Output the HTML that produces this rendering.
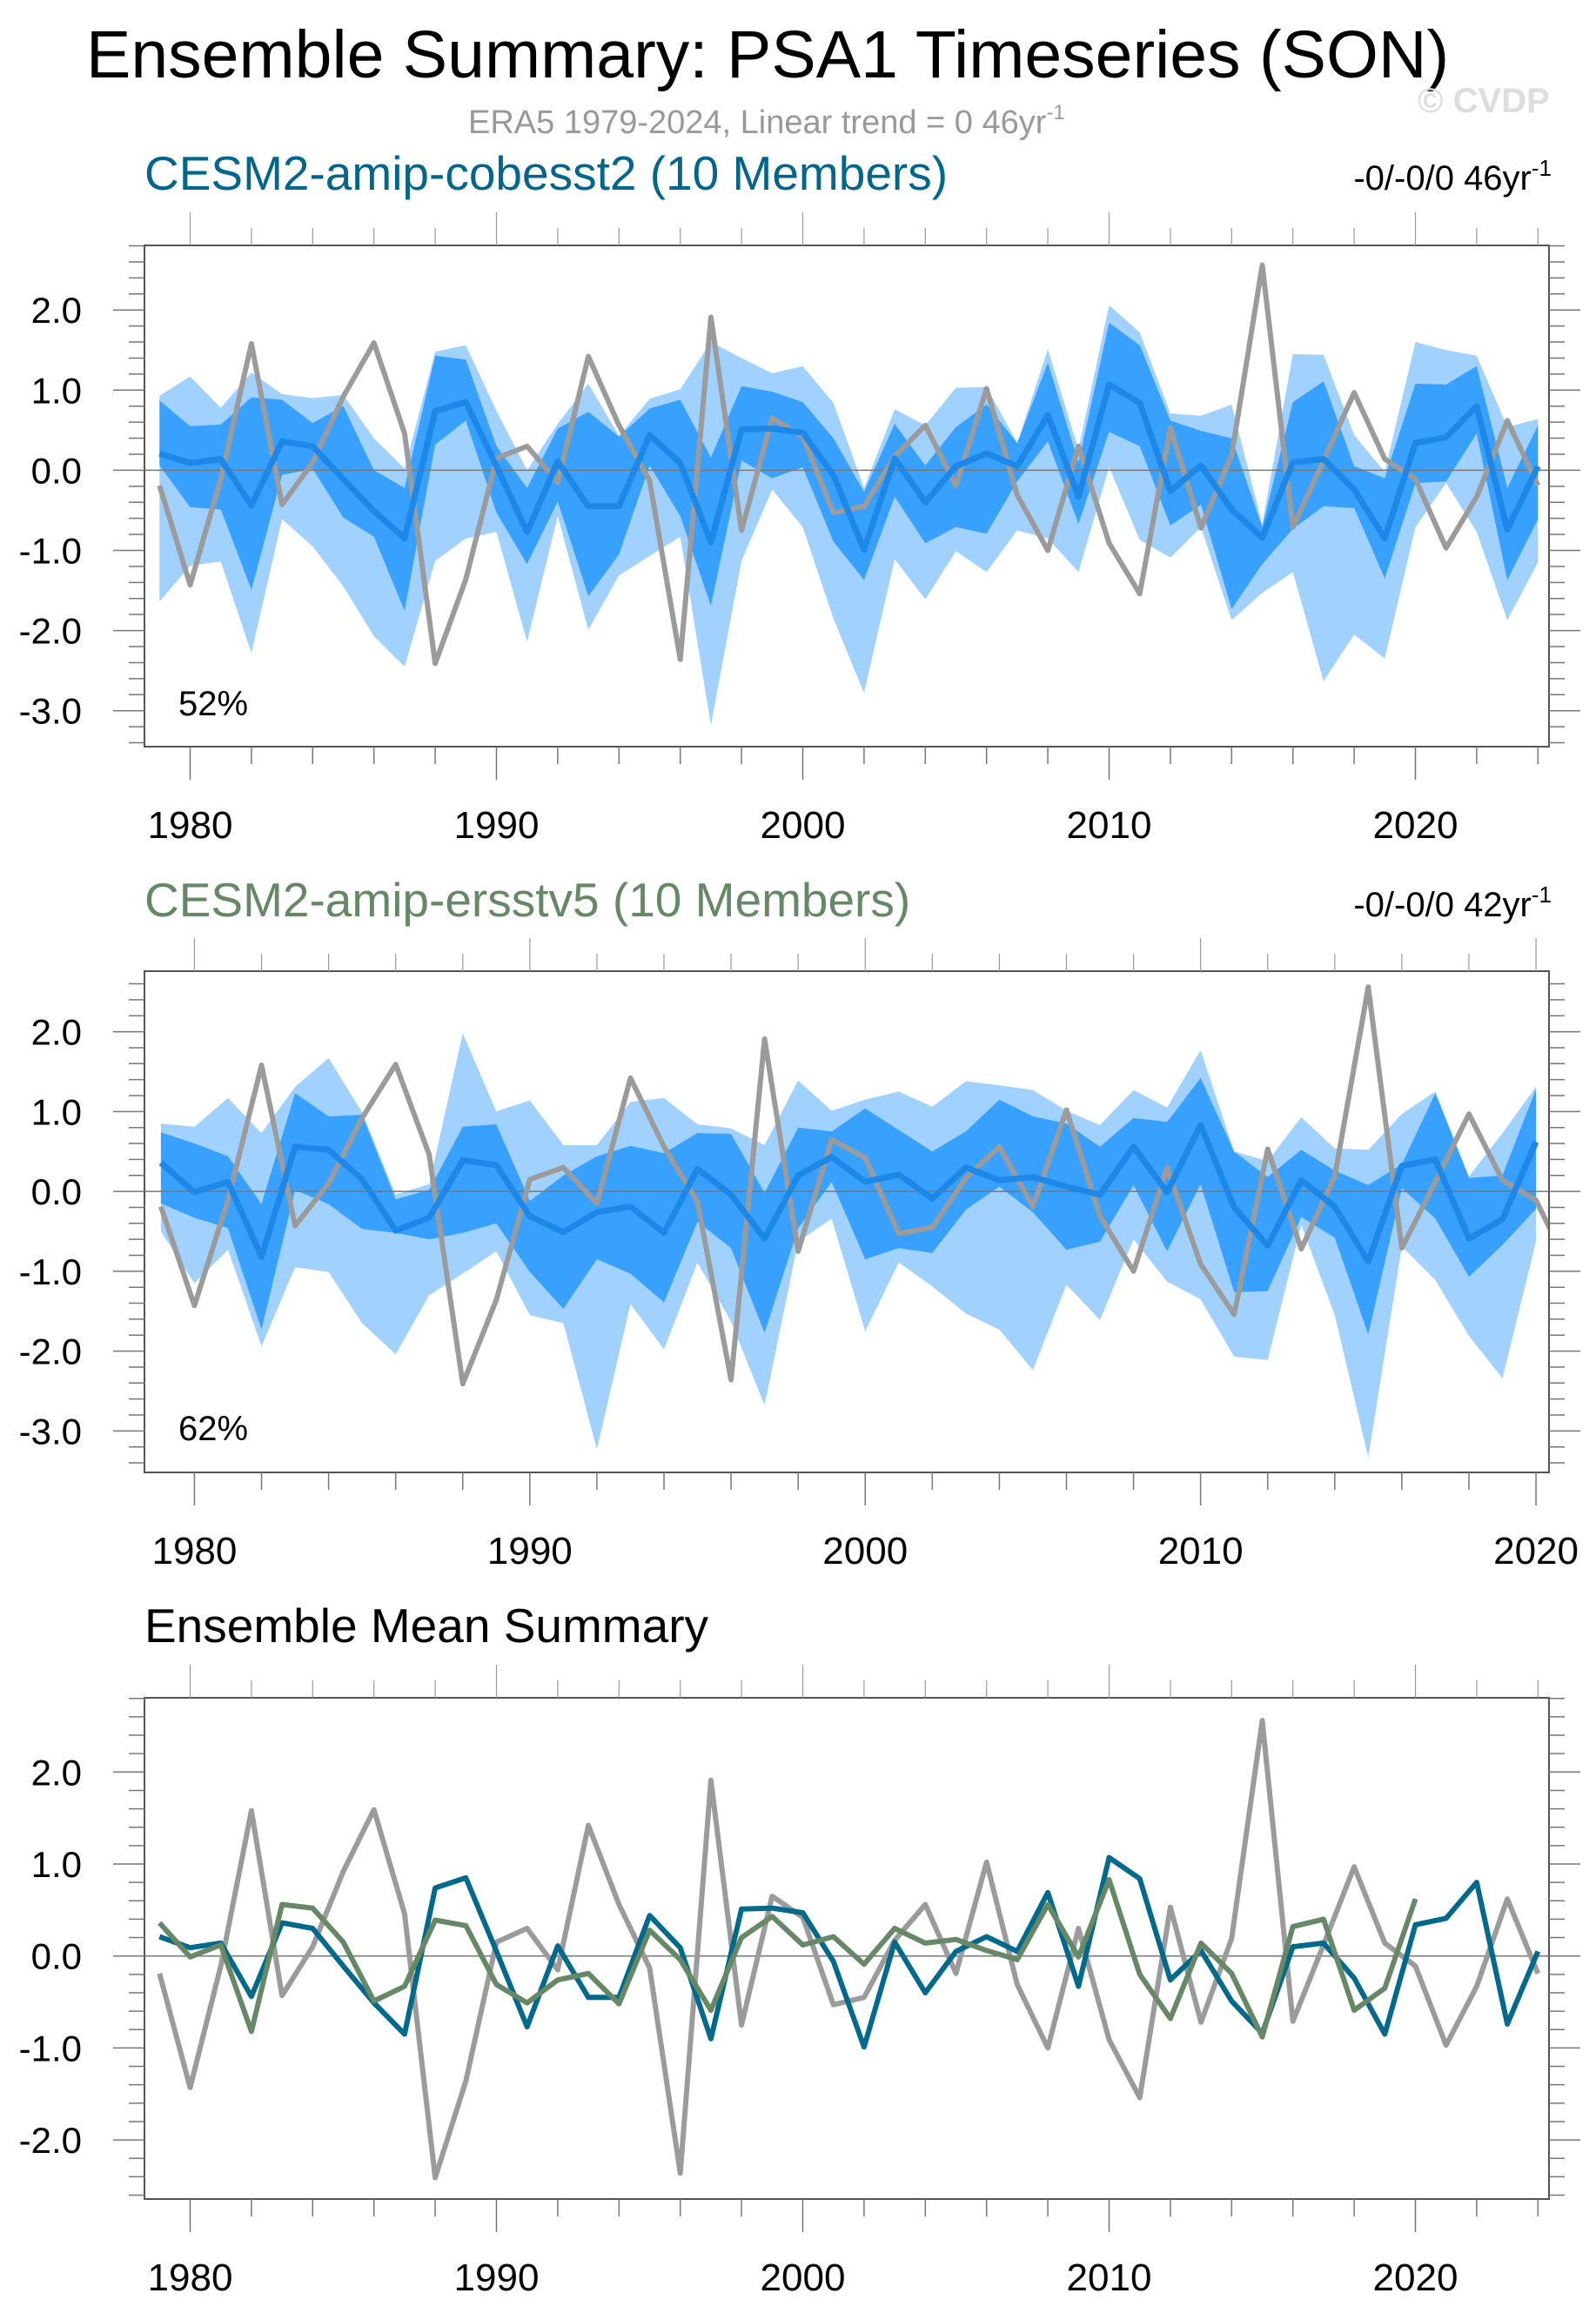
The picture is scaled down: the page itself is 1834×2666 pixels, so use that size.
<!DOCTYPE html>
<html><head><meta charset="utf-8"><style>
html,body{margin:0;padding:0;background:#fff}
svg{display:block}
text{font-family:"Liberation Sans",Arial,sans-serif}
</style></head>
<body>
<svg id="fig" width="1834" height="2666" viewBox="0 0 1834 2666" xmlns="http://www.w3.org/2000/svg">
<text x="99" y="89" font-size="77" fill="#000">Ensemble Summary: PSA1 Timeseries (SON)</text>
<text x="538" y="153" font-size="38" fill="#999">ERA5 1979-2024, Linear trend = 0 46yr<tspan dy="-16" font-size="24">-1</tspan></text>
<text x="1629" y="129" font-size="40" font-weight="bold" fill="#ddd">© CVDP</text>
<text x="166" y="218" font-size="55" fill="#00668B">CESM2-amip-cobesst2 (10 Members)</text>
<text x="1783" y="218" font-size="40" fill="#000" text-anchor="end">-0/-0/0 46yr<tspan dy="-16" font-size="26">-1</tspan></text>
<text x="166" y="1053" font-size="55" fill="#668866">CESM2-amip-ersstv5 (10 Members)</text>
<text x="1783" y="1053" font-size="40" fill="#000" text-anchor="end">-0/-0/0 42yr<tspan dy="-16" font-size="26">-1</tspan></text>
<text x="166" y="1887" font-size="55" fill="#000">Ensemble Mean Summary</text>
<g id="p1"></g>
<g id="p2"></g>
<g id="p3"></g>
</svg>
<script>
const yearsFull = [1979,1980,1981,1982,1983,1984,1985,1986,1987,1988,1989,1990,1991,1992,1993,1994,1995,1996,1997,1998,1999,2000,2001,2002,2003,2004,2005,2006,2007,2008,2009,2010,2011,2012,2013,2014,2015,2016,2017,2018,2019,2020,2021,2022,2023,2024];
const yearsShort = [1979,1980,1981,1982,1983,1984,1985,1986,1987,1988,1989,1990,1991,1992,1993,1994,1995,1996,1997,1998,1999,2000,2001,2002,2003,2004,2005,2006,2007,2008,2009,2010,2011,2012,2013,2014,2015,2016,2017,2018,2019,2020];
const era5 = [-0.19,-1.43,-0.11,1.58,-0.43,0.10,0.92,1.59,0.46,-2.41,-1.36,0.15,0.30,-0.15,1.42,0.56,-0.13,-2.36,1.91,-0.75,0.65,0.42,-0.53,-0.45,0.17,0.56,-0.19,1.02,-0.31,-1.0,0.30,-0.91,-1.54,0.53,-0.72,0.19,2.56,-0.71,0.12,0.97,0.14,-0.11,-0.97,-0.33,0.62,-0.19];
const cobMean = [0.21,0.09,0.14,-0.44,0.36,0.30,-0.11,-0.51,-0.85,0.74,0.85,0.05,-0.77,0.11,-0.45,-0.45,0.44,0.09,-0.90,0.51,0.52,0.47,-0.06,-0.99,0.15,-0.40,0.05,0.21,0.05,0.69,-0.33,1.07,0.84,-0.26,0.06,-0.49,-0.84,0.10,0.14,-0.24,-0.85,0.34,0.41,0.80,-0.74,0.05];
const cobMax = [0.93,1.17,0.78,1.22,0.95,0.90,0.94,0.40,0.02,1.48,1.56,0.74,0.0,0.58,1.08,0.43,0.89,1.01,1.60,1.40,1.21,1.30,0.84,-0.22,0.76,0.56,1.03,1.04,0.34,1.51,0.26,2.06,1.72,0.71,0.68,0.82,-0.67,1.45,1.44,0.44,-0.02,1.60,1.50,1.43,0.54,0.64];
const cobQ3 = [0.87,0.55,0.57,0.91,0.88,0.59,0.80,0.0,-0.22,1.43,1.38,0.30,-0.22,0.52,0.73,0.42,0.77,0.88,0.16,1.05,0.98,0.85,0.40,-0.27,0.58,0.06,0.54,0.82,0.34,1.34,0.10,1.84,1.56,0.62,0.49,0.40,-0.71,0.85,1.11,0.05,-0.10,1.08,1.07,1.30,-0.22,0.56];
const cobQ1 = [0.06,-0.46,-0.49,-1.49,-0.06,0.02,-0.59,-0.83,-1.75,0.32,0.62,-0.53,-1.17,-0.39,-1.57,-1.05,0.06,-0.57,-1.69,0.12,-0.10,0.04,-0.89,-1.37,-0.33,-0.91,-0.71,-0.79,-0.14,0.36,-0.67,0.48,0.30,-0.69,-0.43,-1.73,-1.17,-0.73,-0.45,-0.47,-1.35,-0.16,-0.14,0.46,-1.37,-0.61];
const cobMin = [-1.64,-1.19,-1.14,-2.28,-0.61,-0.95,-1.45,-2.07,-2.45,-1.13,-0.85,-0.77,-2.14,-0.57,-1.99,-1.31,-1.07,-0.83,-3.18,-1.13,-0.24,-0.71,-1.85,-2.78,-1.11,-1.61,-1.01,-1.27,-0.75,-0.85,-1.27,0.04,-0.87,-1.09,-0.71,-1.87,-1.53,-1.27,-2.63,-2.05,-2.35,-0.71,-0.16,-0.77,-1.87,-1.15];
const ersMean = [0.36,-0.01,0.12,-0.82,0.56,0.52,0.15,-0.49,-0.33,0.39,0.33,-0.31,-0.51,-0.26,-0.19,-0.52,0.28,-0.04,-0.59,0.20,0.43,0.12,0.21,-0.09,0.30,0.14,0.18,0.06,-0.04,0.56,-0.01,0.83,-0.20,-0.68,0.14,-0.19,-0.88,0.32,0.40,-0.59,-0.35,0.62];
const ersMax = [0.85,0.81,1.17,0.73,1.31,1.67,0.99,-0.04,0.09,1.98,1.00,1.14,0.58,0.58,1.12,1.17,0.84,0.79,0.58,1.39,1.01,1.15,1.25,1.06,1.38,1.33,1.27,1.01,0.83,1.27,1.05,1.77,0.50,0.38,0.93,0.54,0.52,0.97,1.25,0.19,0.73,1.31];
const ersQ3 = [0.74,0.60,0.44,-0.16,1.23,0.94,0.96,-0.10,0.02,0.81,0.84,-0.12,0.20,0.44,0.57,0.48,0.73,0.72,-0.02,0.80,0.75,1.04,0.77,0.50,0.75,1.15,0.94,0.85,0.56,0.92,0.87,1.42,0.50,0.18,0.52,0.26,0.08,0.34,1.23,0.17,0.20,1.28];
const ersQ1 = [-0.15,-0.33,-0.46,-1.73,0.02,-0.16,-0.47,-0.52,-0.60,-0.52,-0.40,-1.01,-1.47,-0.85,-1.03,-1.39,-0.38,-0.71,-1.77,-0.46,0.12,-0.85,-0.71,-0.77,-0.23,0.06,-0.26,-0.73,-0.63,0.08,-0.75,0.09,-1.26,-1.25,-0.32,-0.58,-1.79,0.04,-0.34,-1.07,-0.67,-0.22];
const ersMin = [-0.50,-1.15,-0.73,-1.94,-0.95,-1.01,-1.65,-2.04,-1.30,-1.03,-0.75,-1.55,-1.65,-3.23,-1.41,-1.98,-0.89,-1.63,-2.68,-0.63,-0.34,-1.75,-0.89,-1.19,-1.53,-1.73,-2.24,-1.17,-1.61,-0.60,-1.13,-1.35,-2.07,-2.11,-0.42,-1.55,-3.33,-0.69,-1.11,-1.81,-2.34,-0.63];
const yTicks1 = [2.0,1.0,0.0,-1.0,-2.0,-3.0];
const yTicks3 = [2.0,1.0,0.0,-1.0,-2.0];
const xTicks1 = [1980,1990,2000,2010,2020];

const NS="http://www.w3.org/2000/svg";
function mk(tag, parent, attrs){const e=document.createElementNS(NS,tag);for(const k in attrs)e.setAttribute(k,attrs[k]);parent.appendChild(e);return e;}

function panel(id, cfg){
  const g=document.getElementById(id);
  const L=166,R=1780,T=cfg.top,B=cfg.bottom;
  const xs=y=>cfg.x0+cfg.dx*(y-1979);
  const ys=v=>cfg.zero-cfg.unit*v;
  const cp=mk('clipPath',g,{id:id+'clip'});
  mk('rect',cp,{x:L,y:T,width:R-L,height:B-T});
  const plot=mk('g',g,{'clip-path':'url(#'+id+'clip)'});
  
  
  function band(yrs,hi,lo,fill,name){
    let d='M'+yrs.map((y,i)=>xs(y).toFixed(1)+','+ys(hi[i]).toFixed(1)).join('L');
    for(let i=yrs.length-1;i>=0;i--) d+='L'+xs(yrs[i]).toFixed(1)+','+ys(lo[i]).toFixed(1);
    const p=mk('path',plot,{d:d+'Z',fill:fill,stroke:'none'});
    
    
  }
  function line(yrs,vals,color,w,name){
    const d='M'+yrs.map((y,i)=>xs(y).toFixed(1)+','+ys(vals[i]).toFixed(1)).join('L');
    const p=mk('path',plot,{d:d,fill:'none',stroke:color,'stroke-width':w,'stroke-linejoin':'round'});
    
    
  }
  if(cfg.bands){
    band(cfg.byears,cfg.bands[0],cfg.bands[3],'#A0D1FF','minmax-band');
    band(cfg.byears,cfg.bands[1],cfg.bands[2],'#38A0FF','interquartile-band');
  }
  const z=mk('line',plot,{x1:L,x2:R,y1:ys(0),y2:ys(0),stroke:'#777','stroke-width':1.5});
  
  
  cfg.lines.forEach(l=>line(l[0],l[1],l[2],l[3],l[4]));
  const fr=mk('rect',g,{x:L,y:T,width:R-L,height:B-T,fill:'none',stroke:'#555','stroke-width':2});
  
  
  for(let v=Math.ceil(cfg.ymin*5);v<=Math.floor(cfg.ymax*5);v++){
    const yy=ys(v/5), major=(v%5===0), len=major?36:18;
    mk('line',g,{x1:L-len,x2:L,y1:yy,y2:yy,stroke:'#777','stroke-width':1.5});
    mk('line',g,{x1:R,x2:R+len,y1:yy,y2:yy,stroke:'#777','stroke-width':1.5});
  }
  cfg.yticks.forEach(v=>{
    const t=mk('text',g,{x:94,y:ys(v)+15,'font-size':42,'text-anchor':'end',fill:'#000'});
    t.textContent=v.toFixed(1);
    
    
  });
  for(let yr=cfg.xfirst;yr<=cfg.xlast;yr+=2){
    const xx=xs(yr), major=(yr%10===0), len=major?38:20;
    mk('line',g,{x1:xx,x2:xx,y1:B,y2:B+len,stroke:'#777','stroke-width':1.5});
    mk('line',g,{x1:xx,x2:xx,y1:T-len,y2:T,stroke:'#999','stroke-width':1.2});
  }
  xTicks1.forEach(yr=>{
    const t=mk('text',g,{x:xs(yr),y:B+105,'font-size':44,'text-anchor':'middle',fill:'#000'});
    t.textContent=yr;
    
    
  });
  if(cfg.pct){
    const t=mk('text',g,{x:205,y:cfg.pctY,'font-size':40,fill:'#000'});
    t.textContent=cfg.pct;
    
    
  }
}

panel('p1',{top:282,bottom:858,zero:540.4,unit:92.1,x0:183.3,dx:35.2,ymin:-3.4,ymax:2.8,yticks:yTicks1,xfirst:1980,xlast:2024,
  byears:yearsFull,bands:[cobMax,cobQ3,cobQ1,cobMin],pct:'52%',pctY:822,
  lines:[[yearsFull,era5,'#9b9b9b',6,'era5-line'],[yearsFull,cobMean,'#1E88E8',7,'ensemble-mean-line']]});
panel('p2',{top:1116,bottom:1692,zero:1369.1,unit:91.75,x0:184.9,dx:38.54,ymin:-3.4,ymax:2.7,yticks:yTicks1,xfirst:1980,xlast:2020,
  byears:yearsShort,bands:[ersMax,ersQ3,ersQ1,ersMin],pct:'62%',pctY:1655,
  lines:[[yearsFull,era5,'#9b9b9b',6,'era5-line'],[yearsShort,ersMean,'#1E88E8',7,'ensemble-mean-line']]});
panel('p3',{top:1951,bottom:2527,zero:2247.7,unit:105.7,x0:183.3,dx:35.2,ymin:-2.6,ymax:2.8,yticks:yTicks3,xfirst:1980,xlast:2024,
  lines:[[yearsFull,era5,'#9b9b9b',6,'era5-line'],[yearsFull,cobMean,'#00698C',6,'cobesst2-mean-line'],[yearsShort,ersMean,'#668866',6,'ersstv5-mean-line']]});
</script>
</body></html>
